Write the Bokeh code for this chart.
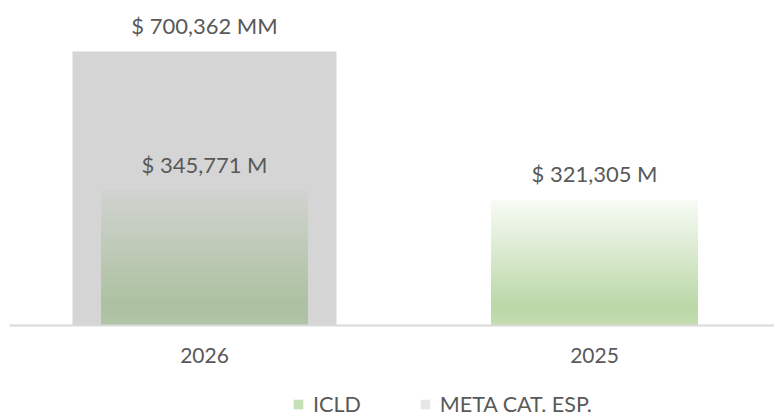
import numpy as np
from bokeh.plotting import figure
from bokeh.models import Range1d, Legend, LegendItem
from bokeh.core.properties import value
from bokeh.embed import file_html
from bokeh.resources import INLINE

# ---- data ----
categories = ["2026", "2025"]
icld = [345771, 321305]
meta = [700362, 0]
icld_labels = ["$ 345,771 M", "$ 321,305 M"]
meta_labels = ["$ 700,362 MM", ""]
series_names = ["ICLD", "META CAT. ESP."]

# ---- style ----
FONT = "Lato"
TXT = "#595959"
GRAY = (213, 213, 213)
GREEN = (112, 173, 71)
GREEN_ON_GRAY = (128, 172, 104)
WHITE = (255, 255, 255)
N = 60
W, H = 774, 416
BASE = 325          # baseline pixel row
CAT_PX = 390        # pixels per category
C0_PX = 204         # pixel of first category centre
UNIT_PX = 274 / 700362.0   # pixels per value unit

xs = [i + 1 for i in range(len(categories))]
x0 = 1 - C0_PX / CAT_PX
y0 = -(H - BASE) / UNIT_PX
y1 = BASE / UNIT_PX

p = figure(width=W, height=H, output_backend="svg", toolbar_location=None,
           x_range=Range1d(x0, x0 + W / CAT_PX), y_range=Range1d(y0, y1),
           min_border_left=0, min_border_right=0, min_border_top=0,
           min_border_bottom=0)
p.outline_line_color = None
p.grid.visible = False
p.axis.visible = False
p.background_fill_color = "white"
p.border_fill_color = "white"

# gray META bars
p.vbar(x=xs, top=meta, width=264 / CAT_PX, fill_color="#%02x%02x%02x" % GRAY,
       line_color=None)

# gradient ICLD bars (opaque slices, alpha-blended colours)
fstops = [0.0, 0.15, 0.5, 1.0]
astops = [0.42, 0.48, 0.30, 0.05]

def blend(c, bg, a):
    return "#%02x%02x%02x" % tuple(int(round(bg[j] + a * (c[j] - bg[j]))) for j in range(3))

sx, sb, st, sc = [], [], [], []
for x, v, m in zip(xs, icld, meta):
    on_gray = m >= v
    bg = GRAY if on_gray else WHITE
    base_c = GREEN_ON_GRAY if on_gray else GREEN
    for k in range(N):
        f = (k + 0.5) / N
        a = float(np.interp(f, fstops, astops))
        sx.append(x)
        sb.append(v * k / N)
        st.append(v * (k + 1) / N + (v * 0.6 / N if k < N - 1 else 0))
        sc.append(blend(base_c, bg, a))
p.vbar(x=sx, bottom=sb, top=st, width=207 / CAT_PX, fill_color=sc, line_color=None)

# axis line
p.segment(x0=[x0 + 9 / CAT_PX], x1=[x0 + W / CAT_PX], y0=[0], y1=[0],
          line_color="#d9d9d9", line_width=2)

# category labels
p.text(x=xs, y=[0] * len(xs), text=categories, text_align="center",
       text_baseline="middle", y_offset=30, text_font=value(FONT),
       text_font_size="21px", text_color=TXT)

# data labels
p.text(x=xs, y=icld, text=icld_labels, text_align="center", text_baseline="middle",
       y_offset=-26, text_font=value(FONT), text_font_size="22px", text_color=TXT)
mx = [x for x, m in zip(xs, meta) if m > 0]
my = [m for m in meta if m > 0]
ml = [l for l, m in zip(meta_labels, meta) if m > 0]
p.text(x=mx, y=my, text=ml, text_align="center", text_baseline="middle",
       y_offset=-26, text_font=value(FONT), text_font_size="22px", text_color=TXT)

# legend (zero-height proxies carry the swatch colours)
r1 = p.vbar(x=[xs[0]], bottom=[0], top=[0], width=0.01, fill_color="#c5e0b4", line_color=None)
r2 = p.vbar(x=[xs[0]], bottom=[0], top=[0], width=0.01, fill_color="#e6e6e6", line_color=None)
legend = Legend(items=[LegendItem(label=series_names[0], renderers=[r1]),
                       LegendItem(label=series_names[1], renderers=[r2])],
                orientation="horizontal", location=(292, -1),
                glyph_width=12, glyph_height=12, label_standoff=9, spacing=58,
                padding=0, margin=0, border_line_color=None,
                background_fill_alpha=0, label_text_font=FONT,
                label_text_font_size="21.5px", label_text_color=TXT)
p.add_layout(legend, "center")

open("out.html", "w").write(file_html(p, INLINE))
